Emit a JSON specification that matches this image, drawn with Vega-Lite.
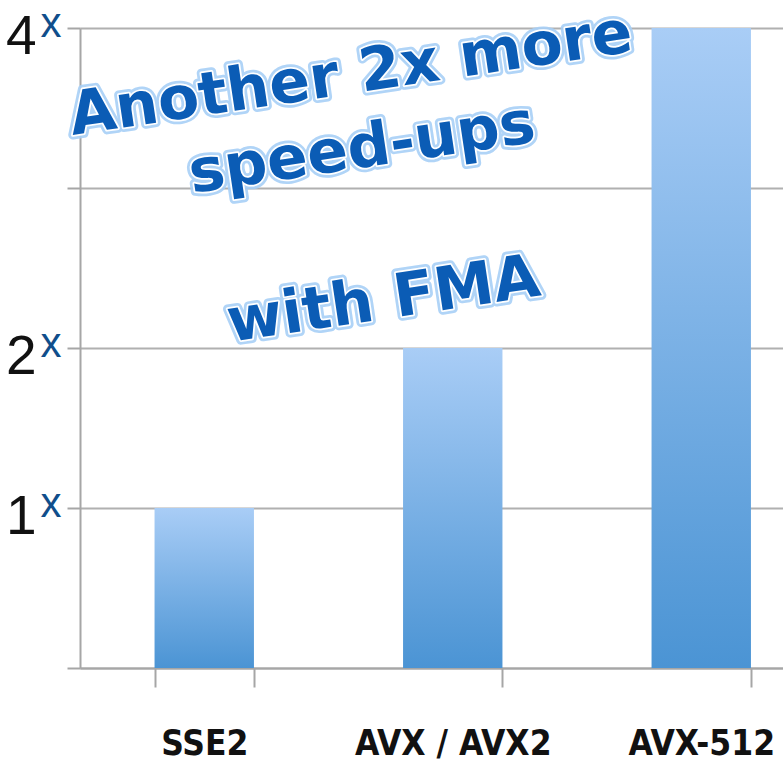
{
  "$schema": "https://vega.github.io/schema/vega-lite/v6.json",
  "width": 703,
  "height": 640,
  "autosize": {"type": "none"},
  "padding": {"left": 80, "top": 28, "right": 0, "bottom": 94},
  "background": "white",
  "config": {
    "view": {"stroke": null},
    "text": {
      "angle": -8.5,
      "font": "DejaVu Sans",
      "fontWeight": "bold",
      "fontSize": 60,
      "lineHeight": 75,
      "align": "center",
      "baseline": "middle"
    }
  },
  "datasets": {
    "speedups": [
      {"isa": "SSE2", "speedup": 1},
      {"isa": "AVX / AVX2", "speedup": 2},
      {"isa": "AVX-512", "speedup": 4}
    ],
    "headline": [
      {"isa": "AVX / AVX2", "pos": 3.8, "label": ["Another 2x more", "speed-ups"]}
    ],
    "subline": [
      {"isa": "AVX / AVX2", "pos": 2.36, "label": "with FMA"}
    ]
  },
  "layer": [
    {
      "data": {"name": "speedups"},
      "mark": {
        "type": "bar",
        "color": {
          "gradient": "linear",
          "x1": 0, "y1": 0, "x2": 0, "y2": 1,
          "stops": [
            {"offset": 0, "color": "#a9cdf6"},
            {"offset": 1, "color": "#4b94d4"}
          ]
        }
      },
      "encoding": {
        "x": {
          "field": "isa",
          "type": "nominal",
          "sort": null,
          "scale": {
            "domain": ["SSE2", "AVX / AVX2", "AVX-512"],
            "range": [0, 745.5],
            "paddingInner": 0.6,
            "paddingOuter": 0.3
          },
          "axis": {
            "title": null,
            "labelAngle": 0,
            "tickBand": "extent",
            "tickSize": 19,
            "tickWidth": 2,
            "tickColor": "#a6a6a6",
            "domainColor": "#a6a6a6",
            "domainWidth": 2,
            "grid": false,
            "labelFont": "DejaVu Sans Condensed, DejaVu Sans, sans-serif",
            "labelFontWeight": "bold",
            "labelFontSize": 35,
            "labelColor": "#111111",
            "labelBaseline": "alphabetic",
            "labelPadding": 67,
            "labelLimit": 400,
            "labelOverlap": false
          }
        },
        "y": {
          "field": "speedup",
          "type": "quantitative",
          "scale": {"domain": [0, 4]},
          "axis": {
            "title": null,
            "values": [0, 1, 2, 3, 4],
            "labelExpr": "datum.value == 1 || datum.value == 2 || datum.value == 4 ? datum.label : ''",
            "grid": true,
            "gridColor": "#b0b0b0",
            "gridWidth": 2,
            "domainColor": "#a6a6a6",
            "domainWidth": 2,
            "tickColor": "#a6a6a6",
            "tickWidth": 2,
            "tickSize": 13,
            "labelFont": "Liberation Sans, sans-serif",
            "labelFontSize": 55,
            "labelColor": "#111111",
            "labelPadding": 31,
            "labelBaseline": "alphabetic",
            "labelOffset": 25,
            "labelFlush": false,
            "labelOverlap": false
          }
        }
      }
    },
    {
      "data": {"name": "headline"},
      "mark": {"type": "text", "dx": -103, "fill": "#a8d0f7", "stroke": "#a8d0f7", "strokeWidth": 9, "strokeJoin": "round", "opacity": 0.9},
      "encoding": {
        "x": {"field": "isa", "type": "nominal"},
        "y": {
          "field": "pos",
          "type": "quantitative",
          "scale": {"domain": [0, 4]},
          "axis": {
            "orient": "left",
            "title": null,
            "values": [1, 2, 4],
            "labelExpr": "'x'",
            "grid": false,
            "domain": false,
            "ticks": false,
            "labelAlign": "left",
            "labelPadding": 40,
            "labelBaseline": "alphabetic",
            "labelOffset": 8,
            "labelFont": "Liberation Sans, sans-serif",
            "labelFontSize": 42,
            "labelColor": "#104e8b",
            "labelFlush": false,
            "labelOverlap": false
          }
        },
        "text": {"field": "label"}
      }
    },
    {
      "data": {"name": "headline"},
      "mark": {"type": "text", "dx": -103, "fill": "#ffffff", "stroke": "#ffffff", "strokeWidth": 3.5, "strokeJoin": "round"},
      "encoding": {
        "x": {"field": "isa", "type": "nominal"},
        "y": {"field": "pos", "type": "quantitative", "scale": {"domain": [0, 4]}, "axis": null},
        "text": {"field": "label"}
      }
    },
    {
      "data": {"name": "headline"},
      "mark": {"type": "text", "dx": -103, "fill": "#0b5cb5"},
      "encoding": {
        "x": {"field": "isa", "type": "nominal"},
        "y": {"field": "pos", "type": "quantitative", "scale": {"domain": [0, 4]}, "axis": null},
        "text": {"field": "label"}
      }
    },
    {
      "data": {"name": "subline"},
      "mark": {"type": "text", "dx": -70, "fill": "#a8d0f7", "stroke": "#a8d0f7", "strokeWidth": 9, "strokeJoin": "round", "opacity": 0.9},
      "encoding": {
        "x": {"field": "isa", "type": "nominal"},
        "y": {"field": "pos", "type": "quantitative", "scale": {"domain": [0, 4]}, "axis": null},
        "text": {"field": "label"}
      }
    },
    {
      "data": {"name": "subline"},
      "mark": {"type": "text", "dx": -70, "fill": "#ffffff", "stroke": "#ffffff", "strokeWidth": 3.5, "strokeJoin": "round"},
      "encoding": {
        "x": {"field": "isa", "type": "nominal"},
        "y": {"field": "pos", "type": "quantitative", "scale": {"domain": [0, 4]}, "axis": null},
        "text": {"field": "label"}
      }
    },
    {
      "data": {"name": "subline"},
      "mark": {"type": "text", "dx": -70, "fill": "#0b5cb5"},
      "encoding": {
        "x": {"field": "isa", "type": "nominal"},
        "y": {"field": "pos", "type": "quantitative", "scale": {"domain": [0, 4]}, "axis": null},
        "text": {"field": "label"}
      }
    }
  ],
  "resolve": {"axis": {"y": "independent"}}
}
